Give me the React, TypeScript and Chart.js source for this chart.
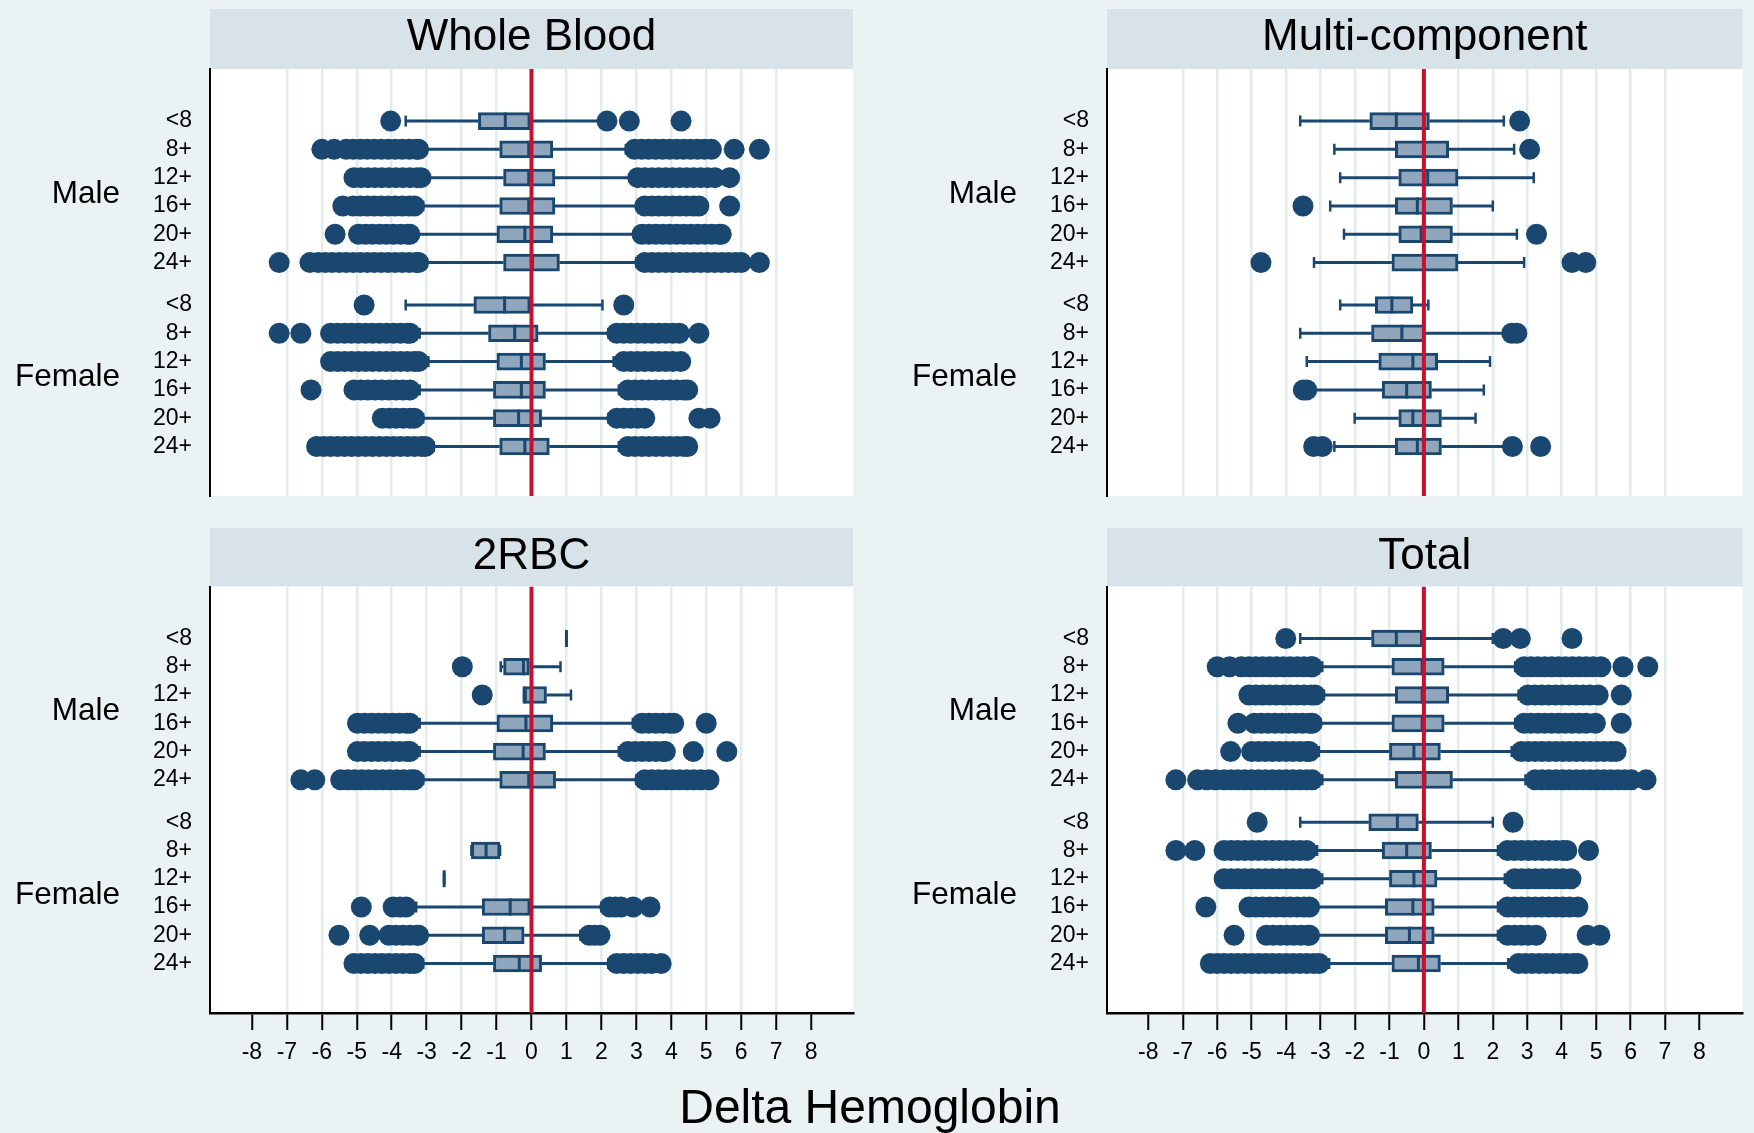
import React, { useEffect, useRef } from 'react';
import { Chart, registerables } from 'chart.js';

Chart.register(...registerables);

// ---------------- data ----------------
const rowLabels = ['<8', '8+', '12+', '16+', '20+', '24+', '<8', '8+', '12+', '16+', '20+', '24+'];
const groupLabels = ['Male', 'Female'];
const panelTitles = ['Whole Blood', 'Multi-component', '2RBC', 'Total'];
const xTickValues = [-8, -7, -6, -5, -4, -3, -2, -1, 0, 1, 2, 3, 4, 5, 6, 7, 8];
const axisTitle = 'Delta Hemoglobin';

// Whole Blood
const wholeBloodLow = [-3.6, -3.0, -2.95, -3.1, -3.3, -3.0, -3.6, -3.2, -2.95, -3.2, -3.1, -2.8];
const wholeBloodQ1 = [-1.52, -0.91, -0.8, -0.91, -0.99, -0.8, -1.65, -1.23, -0.99, -1.09, -1.09, -0.91];
const wholeBloodMedian = [-0.75, -0.08, -0.08, -0.08, -0.19, 0.03, -0.77, -0.48, -0.29, -0.29, -0.37, -0.19];
const wholeBloodQ3 = [0.0, 0.61, 0.67, 0.67, 0.61, 0.8, 0.0, 0.19, 0.4, 0.4, 0.29, 0.51];
const wholeBloodHigh = [2.0, 2.7, 2.85, 3.05, 2.95, 3.0, 2.03, 2.2, 2.35, 2.5, 2.2, 2.5];
const wholeBloodOutliers = [
  [-4.03, 2.16, 2.8, 4.28],
  [-6.0, -5.65, -5.3, -5.1, -4.9, -4.7, -4.5, -4.3, -4.1, -3.9, -3.7, -3.5, -3.3, -3.23, 2.95, 3.15, 3.35, 3.55, 3.75, 3.95, 4.15, 4.35, 4.55, 4.75, 4.95, 5.15, 5.8, 6.52],
  [-5.08, -4.88, -4.68, -4.48, -4.28, -4.08, -3.88, -3.68, -3.48, -3.28, -3.16, 3.04, 3.24, 3.44, 3.64, 3.84, 4.04, 4.24, 4.44, 4.64, 4.84, 5.04, 5.25, 5.67],
  [-5.4, -5.1, -4.9, -4.7, -4.5, -4.3, -4.1, -3.9, -3.7, -3.5, -3.35, 3.24, 3.44, 3.64, 3.84, 4.04, 4.24, 4.44, 4.64, 4.79, 5.67],
  [-5.62, -4.95, -4.75, -4.55, -4.35, -4.15, -3.95, -3.75, -3.55, -3.48, 3.16, 3.36, 3.56, 3.76, 3.96, 4.16, 4.36, 4.56, 4.76, 4.96, 5.16, 5.36, 5.43],
  [-7.22, -6.34, -6.1, -5.9, -5.7, -5.5, -5.3, -5.1, -4.9, -4.7, -4.5, -4.3, -4.1, -3.9, -3.7, -3.5, -3.3, -3.23, 3.24, 3.44, 3.64, 3.84, 4.04, 4.24, 4.44, 4.64, 4.84, 5.04, 5.24, 5.44, 5.64, 5.84, 6.0, 6.52],
  [-4.79, 2.64],
  [-7.22, -6.6, -5.75, -5.55, -5.35, -5.15, -4.95, -4.75, -4.55, -4.35, -4.15, -3.95, -3.75, -3.55, -3.48, 2.44, 2.64, 2.84, 3.04, 3.24, 3.44, 3.64, 3.84, 4.04, 4.23, 4.79],
  [-5.75, -5.55, -5.35, -5.15, -4.95, -4.75, -4.55, -4.35, -4.15, -3.95, -3.75, -3.55, -3.35, -3.23, 2.64, 2.84, 3.04, 3.24, 3.44, 3.64, 3.84, 4.04, 4.27],
  [-6.31, -5.08, -4.88, -4.68, -4.48, -4.28, -4.08, -3.88, -3.68, -3.48, 2.76, 2.96, 3.16, 3.36, 3.56, 3.76, 3.96, 4.16, 4.36, 4.47],
  [-4.27, -4.07, -3.87, -3.67, -3.47, -3.35, 2.44, 2.64, 2.84, 3.04, 3.24, 4.79, 5.11],
  [-6.15, -5.95, -5.75, -5.55, -5.35, -5.15, -4.95, -4.75, -4.55, -4.35, -4.15, -3.95, -3.75, -3.55, -3.35, -3.15, -3.04, 2.76, 2.96, 3.16, 3.36, 3.56, 3.76, 3.96, 4.16, 4.36, 4.47],
];

// Multi-component
const multiLow = [-3.59, -2.6, -2.43, -2.72, -2.32, -3.19, -2.43, -3.59, -3.4, -3.3, -2.01, -2.6];
const multiQ1 = [-1.57, -0.83, -0.73, -0.83, -0.73, -0.93, -1.41, -1.52, -1.31, -1.21, -0.73, -0.83];
const multiMedian = [-0.8, 0.0, 0.11, -0.19, -0.08, 0.0, -0.93, -0.64, -0.32, -0.5, -0.32, -0.19];
const multiQ3 = [0.16, 0.72, 0.99, 0.83, 0.83, 0.99, -0.32, 0.03, 0.4, 0.22, 0.51, 0.51];
const multiHigh = [2.32, 2.62, 3.19, 2.0, 2.7, 2.91, 0.13, 2.4, 1.92, 1.74, 1.5, 2.35];
const multiOutliers = [
  [2.78],
  [3.07],
  [],
  [-3.51],
  [3.27],
  [-4.73, 4.3, 4.7],
  [],
  [2.55, 2.7],
  [],
  [-3.5, -3.4],
  [],
  [-3.2, -2.95, 2.57, 3.39],
];

// 2RBC
const rbcLow = [1.0, -0.88, -0.21, -3.2, -3.2, -3.1, null, -1.72, -2.5, -3.3, -3.0, -3.1];
const rbcQ1 = [1.0, -0.8, -0.21, -0.99, -1.09, -0.91, null, -1.72, -2.5, -1.41, -1.41, -1.09];
const rbcMedian = [1.0, -0.23, -0.21, -0.16, -0.24, -0.08, null, -1.3, -2.5, -0.61, -0.77, -0.35];
const rbcQ3 = [1.0, -0.06, 0.43, 0.61, 0.4, 0.69, null, -0.9, -2.5, 0.0, -0.21, 0.29];
const rbcHigh = [1.0, 0.83, 1.13, 2.9, 2.5, 3.0, null, -0.9, -2.5, 2.0, 1.4, 2.2];
const rbcOutliers = [
  [],
  [-1.98],
  [-1.41],
  [-4.98, -4.78, -4.58, -4.38, -4.18, -3.98, -3.78, -3.58, -3.48, 3.16, 3.36, 3.56, 3.76, 3.96, 4.07, 5.0],
  [-4.98, -4.78, -4.58, -4.38, -4.18, -3.98, -3.78, -3.58, -3.48, 2.76, 2.96, 3.16, 3.36, 3.56, 3.76, 3.83, 4.63, 5.59],
  [-6.6, -6.2, -5.46, -5.26, -5.06, -4.86, -4.66, -4.46, -4.26, -4.06, -3.86, -3.66, -3.46, -3.35, 3.24, 3.44, 3.64, 3.84, 4.04, 4.24, 4.44, 4.64, 4.84, 5.08],
  [],
  [],
  [],
  [-4.87, -3.96, -3.76, -3.59, 2.24, 2.4, 2.56, 2.91, 3.39],
  [-5.51, -4.63, -4.08, -3.88, -3.68, -3.48, -3.28, -3.23, 1.65, 1.8, 1.96],
  [-5.08, -4.88, -4.68, -4.48, -4.28, -4.08, -3.88, -3.68, -3.48, -3.35, 2.44, 2.64, 2.84, 3.04, 3.24, 3.44, 3.71],
];

// Total
const totalLow = [-3.59, -2.95, -2.9, -3.0, -3.05, -2.95, -3.59, -3.1, -2.95, -3.1, -3.1, -2.75];
const totalQ1 = [-1.52, -0.93, -0.83, -0.93, -1.0, -0.83, -1.6, -1.21, -1.0, -1.12, -1.12, -0.93];
const totalMedian = [-0.8, -0.05, -0.05, -0.05, -0.29, 0.03, -0.77, -0.5, -0.29, -0.32, -0.42, -0.16];
const totalQ3 = [0.0, 0.59, 0.72, 0.59, 0.48, 0.83, -0.16, 0.22, 0.38, 0.3, 0.3, 0.48];
const totalHigh = [2.0, 2.65, 2.75, 2.65, 2.55, 2.95, 2.0, 2.15, 2.35, 2.15, 2.15, 2.45];
const totalOutliers = [
  [-4.01, 2.3, 2.8, 4.3],
  [-6.0, -5.64, -5.3, -5.08, -4.88, -4.68, -4.48, -4.28, -4.08, -3.88, -3.68, -3.48, -3.28, -3.24, 2.91, 3.11, 3.31, 3.51, 3.71, 3.91, 4.11, 4.31, 4.51, 4.71, 4.91, 5.14, 5.78, 6.5],
  [-5.08, -4.88, -4.68, -4.48, -4.28, -4.08, -3.88, -3.68, -3.48, -3.28, -3.16, 3.02, 3.22, 3.42, 3.62, 3.82, 4.02, 4.22, 4.42, 4.62, 4.82, 5.06, 5.73],
  [-5.4, -4.92, -4.72, -4.52, -4.32, -4.12, -3.92, -3.72, -3.52, -3.32, -3.24, 2.91, 3.11, 3.31, 3.51, 3.71, 3.91, 4.11, 4.31, 4.51, 4.71, 4.98, 5.73],
  [-5.61, -5.0, -4.8, -4.6, -4.4, -4.2, -4.0, -3.8, -3.6, -3.4, -3.32, 2.83, 3.03, 3.23, 3.43, 3.63, 3.83, 4.03, 4.23, 4.43, 4.63, 4.83, 5.03, 5.23, 5.43, 5.58],
  [-7.2, -6.57, -6.3, -6.05, -5.8, -5.6, -5.4, -5.2, -5.0, -4.8, -4.6, -4.4, -4.2, -4.0, -3.8, -3.6, -3.4, -3.24, 3.23, 3.43, 3.63, 3.83, 4.03, 4.23, 4.43, 4.63, 4.83, 5.03, 5.23, 5.43, 5.63, 5.83, 6.02, 6.45],
  [-4.84, 2.59],
  [-7.2, -6.65, -5.8, -5.6, -5.4, -5.2, -5.0, -4.8, -4.6, -4.4, -4.2, -4.0, -3.8, -3.6, -3.4, 2.43, 2.63, 2.83, 3.03, 3.23, 3.43, 3.63, 3.83, 4.03, 4.15, 4.78],
  [-5.8, -5.6, -5.4, -5.2, -5.0, -4.8, -4.6, -4.4, -4.2, -4.0, -3.8, -3.6, -3.4, -3.24, 2.64, 2.84, 3.04, 3.24, 3.44, 3.64, 3.84, 4.04, 4.27],
  [-6.33, -5.08, -4.88, -4.68, -4.48, -4.28, -4.08, -3.88, -3.68, -3.48, -3.32, 2.43, 2.63, 2.83, 3.03, 3.23, 3.43, 3.63, 3.83, 4.03, 4.23, 4.47],
  [-5.51, -4.57, -4.37, -4.17, -3.97, -3.77, -3.57, -3.37, -3.32, 2.43, 2.63, 2.83, 3.03, 3.26, 4.74, 5.11],
  [-6.2, -6.0, -5.8, -5.6, -5.4, -5.2, -5.0, -4.8, -4.6, -4.4, -4.2, -4.0, -3.8, -3.6, -3.4, -3.2, -3.04, 2.75, 2.95, 3.15, 3.35, 3.55, 3.75, 3.95, 4.15, 4.35, 4.47],
];

// ---------------- layout / style ----------------
const rowPositions = [0, 1, 2, 3, 4, 5, 6.5, 7.5, 8.5, 9.5, 10.5, 11.5];
const groupPositions = [2.58, 9.07];
const Y_MIN = -1.84;
const Y_MAX = 13.25;
const X_MIN = -9.2;

const FONT = "'Liberation Sans', Arial, Helvetica, sans-serif";
const BG = '#EAF2F3';
const BAND = '#D7E3E9';
const NAVY = '#1A476F';
const BOX_FILL = '#8FA6BC';
const RED = '#C8102E';
const GRID = '#E2EBEE';

type Panel = {
  title: string;
  low: (number | null)[];
  q1: (number | null)[];
  med: (number | null)[];
  q3: (number | null)[];
  high: (number | null)[];
  out: number[][];
};

const panels: Panel[] = [
  { title: panelTitles[0], low: wholeBloodLow, q1: wholeBloodQ1, med: wholeBloodMedian, q3: wholeBloodQ3, high: wholeBloodHigh, out: wholeBloodOutliers },
  { title: panelTitles[1], low: multiLow, q1: multiQ1, med: multiMedian, q3: multiQ3, high: multiHigh, out: multiOutliers },
  { title: panelTitles[2], low: rbcLow, q1: rbcQ1, med: rbcMedian, q3: rbcQ3, high: rbcHigh, out: rbcOutliers },
  { title: panelTitles[3], low: totalLow, q1: totalQ1, med: totalMedian, q3: totalQ3, high: totalHigh, out: totalOutliers },
];

const panelBackground = {
  id: 'panelBackground',
  beforeDraw(chart: any) {
    const { ctx, chartArea: a } = chart;
    const tb = chart.titleBlock;
    ctx.save();
    ctx.fillStyle = BAND;
    const top = tb ? tb.top : a.top - 60;
    ctx.fillRect(a.left, top, a.right - a.left, a.top - top);
    ctx.fillStyle = '#FFFFFF';
    ctx.fillRect(a.left, a.top, a.right - a.left, a.bottom - a.top);
    ctx.restore();
  },
};

const zeroPadding = (s: any) => {
  s.paddingTop = 0;
  s.paddingBottom = 0;
  s.paddingLeft = 0;
  s.paddingRight = 0;
};

function makeConfig(p: Panel, bottom: boolean, right: boolean): any {
  const boxes: any[] = [];
  const medians: any[] = [];
  const caps: any[] = [];
  const whiskers: any[] = [];
  const outliers: any[] = [];
  p.q1.forEach((q1, i) => {
    if (q1 === null) return;
    const y = rowPositions[i];
    const q3 = p.q3[i] as number;
    const lo = p.low[i] as number;
    const hi = p.high[i] as number;
    boxes.push({ x: [q1, q3], y });
    medians.push({ x: p.med[i], y });
    caps.push({ x: lo, y }, { x: hi, y });
    whiskers.push({ x: lo, y }, { x: q1, y }, { x: null, y: null }, { x: q3, y }, { x: hi, y }, { x: null, y: null });
  });
  p.out.forEach((vals, i) => vals.forEach((v) => outliers.push({ x: v, y: rowPositions[i] })));

  return {
    type: 'scatter',
    data: {
      datasets: [
        { type: 'line', label: 'zero', data: [{ x: 0, y: Y_MIN }, { x: 0, y: Y_MAX }], borderColor: RED, borderWidth: 4, pointRadius: 0, order: 0, xAxisID: 'x', yAxisID: 'y' },
        { type: 'scatter', label: 'median', data: medians, pointStyle: 'line', pointRotation: 90, pointRadius: 8.5, pointBorderWidth: 3, pointBorderColor: NAVY, borderColor: NAVY, order: 1, xAxisID: 'x', yAxisID: 'y' },
        { type: 'bar', label: 'IQR', indexAxis: 'y', data: boxes, backgroundColor: BOX_FILL, borderColor: NAVY, borderWidth: 3, borderSkipped: false, barThickness: 17, grouped: false, order: 2, xAxisID: 'x', yAxisID: 'y' },
        { type: 'scatter', label: 'outliers', data: outliers, pointRadius: 10.5, pointBackgroundColor: NAVY, backgroundColor: NAVY, pointBorderWidth: 0, borderWidth: 0, order: 3, xAxisID: 'x', yAxisID: 'y' },
        { type: 'scatter', label: 'caps', data: caps, pointStyle: 'line', pointRotation: 90, pointRadius: 5.5, pointBorderWidth: 2.5, pointBorderColor: NAVY, borderColor: NAVY, order: 4, xAxisID: 'x', yAxisID: 'y' },
        { type: 'line', label: 'whiskers', data: whiskers, borderColor: NAVY, borderWidth: 3, pointRadius: 0, spanGaps: false, order: 5, xAxisID: 'x', yAxisID: 'y' },
      ],
    },
    options: {
      responsive: false,
      animation: false,
      events: [],
      layout: { padding: { top: bottom ? 8 : 9, left: 0, right: right ? 0 : 24, bottom: bottom ? 60 : 24 } },
      plugins: {
        legend: { display: false },
        tooltip: { enabled: false },
        title: {
          display: true,
          text: p.title,
          fullSize: false,
          color: '#000',
          font: { family: FONT, size: 44, weight: 'normal' },
          padding: { top: 2.5, bottom: bottom ? 3.2 : 4.7 },
        },
      },
      scales: {
        x: {
          type: 'linear',
          position: 'bottom',
          min: X_MIN,
          max: right ? 9.25 : 9.2,
          offset: false,
          beginAtZero: false,
          afterBuildTicks: (s: any) => { s.ticks = xTickValues.map((v) => ({ value: v })); },
          afterFit: (s: any) => { s.height = bottom ? 60 : 0; zeroPadding(s); },
          grid: {
            display: true,
            offset: false,
            drawOnChartArea: true,
            drawTicks: bottom,
            tickLength: 17,
            tickWidth: 2,
            tickColor: '#000',
            lineWidth: 2.5,
            color: (c: any) => {
              const v = c.tick ? c.tick.value : undefined;
              if (v === undefined || v === 0 || Math.abs(v) >= 8) return 'rgba(0,0,0,0)';
              return GRID;
            },
          },
          border: { display: bottom, color: '#000', width: 2.5 },
          ticks: {
            display: bottom,
            color: '#000',
            font: { family: FONT, size: 23 },
            padding: 9,
            autoSkip: false,
            maxRotation: 0,
            callback: (v: any) => String(v),
          },
        },
        y: {
          type: 'linear',
          axis: 'y',
          position: 'left',
          weight: 0,
          min: Y_MIN,
          max: Y_MAX,
          reverse: true,
          offset: false,
          afterBuildTicks: (s: any) => { s.ticks = rowPositions.map((v) => ({ value: v })); },
          afterFit: (s: any) => { s.width = 90; zeroPadding(s); },
          grid: { display: true, offset: false, drawOnChartArea: false, drawTicks: false, color: 'rgba(0,0,0,0)' },
          border: { display: true, color: '#000', width: 2 },
          ticks: {
            color: '#000',
            font: { family: FONT, size: 23 },
            padding: 18,
            autoSkip: false,
            callback: (_v: any, i: number) => rowLabels[i],
          },
        },
        yg: {
          type: 'linear',
          axis: 'y',
          position: 'left',
          weight: 1,
          min: Y_MIN,
          max: Y_MAX,
          reverse: true,
          offset: false,
          afterBuildTicks: (s: any) => { s.ticks = groupPositions.map((v) => ({ value: v })); },
          afterFit: (s: any) => { s.width = right ? 140 : 120; zeroPadding(s); },
          grid: { display: false, offset: false, drawOnChartArea: false, drawTicks: false },
          border: { display: false },
          ticks: {
            color: '#000',
            font: { family: FONT, size: 31.5 },
            padding: 0,
            autoSkip: false,
            callback: (_v: any, i: number) => groupLabels[i],
          },
        },
      },
    },
    plugins: [panelBackground],
  };
}

function PanelChart(props: { panel: Panel; left: number; top: number; width: number; height: number; bottom: boolean; right: boolean }) {
  const ref = useRef<HTMLCanvasElement | null>(null);
  useEffect(() => {
    if (!ref.current) return;
    const chart = new Chart(ref.current, makeConfig(props.panel, props.bottom, props.right));
    return () => chart.destroy();
  }, []);
  return (
    <canvas
      ref={ref}
      width={props.width}
      height={props.height}
      style={{ position: 'absolute', left: props.left, top: props.top, width: props.width, height: props.height }}
    />
  );
}

export default function App() {
  return (
    <div style={{ position: 'absolute', left: 0, top: 0, width: 1754, height: 1133, background: BG, overflow: 'hidden' }}>
      <PanelChart panel={panels[0]} left={0} top={0} width={877} height={520} bottom={false} right={false} />
      <PanelChart panel={panels[1]} left={877} top={0} width={877} height={520} bottom={false} right={true} />
      <PanelChart panel={panels[2]} left={0} top={520} width={877} height={613} bottom={true} right={false} />
      <PanelChart panel={panels[3]} left={877} top={520} width={877} height={613} bottom={true} right={true} />
      <div
        style={{
          position: 'absolute',
          left: 0,
          top: 1083,
          width: 1740,
          textAlign: 'center',
          fontFamily: FONT,
          fontSize: 48,
          lineHeight: '48px',
          color: '#000',
        }}
      >
        {axisTitle}
      </div>
    </div>
  );
}
